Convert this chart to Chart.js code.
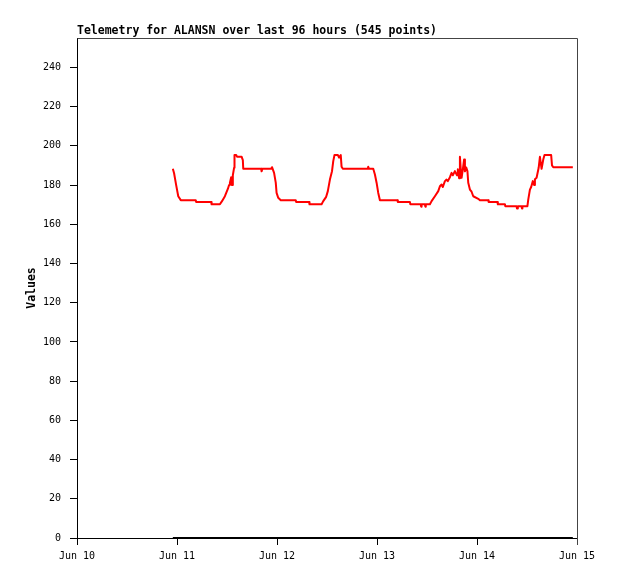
<!DOCTYPE html>
<html>
<head>
<meta charset="utf-8">
<script src="https://cdn.jsdelivr.net/npm/chart.js@4.4.1/dist/chart.umd.min.js"></script>
<style>
  html, body { margin: 0; padding: 0; background: #fff; }
  #wrap { width: 618px; height: 579px; position: relative; }
</style>
</head>
<body>
<div id="wrap"><canvas id="c" width="618" height="579"></canvas></div>
<script>
// hours since Jun 10 00:00
const hours = [
  23.0, 23.3, 23.8, 24.3, 24.9, 28.5, 28.6, 32.2, 32.3, 34.3, 34.8, 35.5, 36.2, 36.5, 36.7, 37.0, 37.2, 37.4, 37.7, 37.8,
  38.2, 38.4, 39.5, 39.8, 39.9, 44.2, 44.3, 44.5, 46.6, 46.8, 47.3, 47.7, 47.9, 48.3, 48.9, 52.5, 52.6, 55.7, 55.8, 58.7,
  59.1, 59.8, 60.2, 60.7, 61.2, 61.5, 61.8, 62.6, 62.9, 63.3, 63.5, 63.8, 69.8, 69.9, 70.1, 71.1, 71.5, 71.9, 72.3, 72.7,
  76.9, 77.0, 79.9, 80.0, 82.5, 82.6, 82.7, 83.5, 83.6, 83.7, 84.7, 85.1, 85.9, 86.7, 87.1, 87.5, 87.8, 88.3, 88.7, 89.0,
  89.5, 89.9, 90.2, 90.7, 91.2, 91.4, 91.7, 91.9, 92.2, 92.3, 92.6, 92.9, 93.1, 93.4, 93.7, 93.9, 94.3, 94.7, 95.1, 96.3,
  96.7, 98.7, 98.8, 100.9, 101.0, 102.7, 102.8, 105.5, 105.6, 105.8, 106.7, 106.8, 106.9, 108.1, 108.3, 108.7, 109.0, 109.4, 109.7, 109.9,
  110.3, 110.8, 111.1, 111.5, 111.9, 112.2, 113.8, 114.0, 114.3, 119.0
];
const values = [
  188.3, 186.0, 180.0, 174.3, 172.3, 172.3, 171.4, 171.4, 170.2, 170.2, 171.8, 174.3, 178.0, 180.0, 181.2, 184.0, 180.0, 185.0, 188.8, 195.3,
  195.3, 194.5, 194.5, 192.7, 188.3, 188.3, 187.0, 188.3, 188.3, 189.1, 186.2, 181.2, 176.0, 173.5, 172.3, 172.3, 171.4, 171.4, 170.2, 170.2,
  171.8, 174.0, 176.9, 182.8, 187.1, 192.2, 195.3, 195.3, 194.0, 195.3, 189.3, 188.3, 188.3, 189.3, 188.3, 188.3, 185.4, 181.2, 176.0, 172.3,
  172.3, 171.4, 171.4, 170.2, 170.2, 169.0, 170.2, 170.2, 169.0, 170.2, 170.2, 171.8, 174.3, 176.9, 179.4, 180.3, 179.0, 182.0, 182.8, 182.0,
  184.0, 186.2, 185.0, 187.1, 185.0, 188.0, 183.5, 194.4, 185.0, 183.7, 188.0, 193.0, 187.0, 189.0, 187.1, 181.2, 177.7, 176.6, 174.3, 173.0,
  172.3, 172.3, 171.4, 171.4, 170.2, 170.2, 169.2, 169.2, 168.0, 169.2, 169.2, 168.0, 169.2, 169.2, 172.6, 177.7, 179.0, 182.0, 180.0, 183.0,
  183.7, 188.8, 194.4, 188.3, 193.0, 195.3, 195.3, 190.0, 189.1, 189.1
];
const zeroHours = [23.0, 119.0];
const zeroValues = [0, 0];
const xTickLabels = ['Jun 10', 'Jun 11', 'Jun 12', 'Jun 13', 'Jun 14', 'Jun 15'];
const yTickValues = [0, 20, 40, 60, 80, 100, 120, 140, 160, 180, 200, 220, 240];
const titleText = 'Telemetry for ALANSN over last 96 hours (545 points)';
const yAxisTitle = 'Values';

const mono = '"DejaVu Sans Mono", "Liberation Mono", monospace';

const framePlugin = {
  id: 'frame',
  afterDatasetsDraw(chart) {
    const { ctx, chartArea: a } = chart;
    ctx.save();
    ctx.strokeStyle = '#444';
    ctx.lineWidth = 1;
    ctx.beginPath();
    ctx.moveTo(Math.round(a.left) + 0.5, Math.round(a.top) + 0.5);
    ctx.lineTo(Math.round(a.right) + 0.5, Math.round(a.top) + 0.5);
    ctx.lineTo(Math.round(a.right) + 0.5, Math.round(a.bottom) + 7);
    ctx.stroke();
    ctx.restore();
  }
};

new Chart(document.getElementById('c'), {
  type: 'line',
  data: {
    datasets: [
      {
        data: hours.map((h, i) => ({ x: h, y: values[i] })),
        borderColor: '#ff0000',
        borderWidth: 2,
        borderJoinStyle: 'round',
        pointRadius: 0,
        tension: 0,
        fill: false
      },
      {
        data: zeroHours.map((h, i) => ({ x: h, y: zeroValues[i] })),
        borderColor: '#000000',
        borderWidth: 2,
        pointRadius: 0,
        tension: 0,
        fill: false,
        clip: false
      }
    ]
  },
  options: {
    responsive: false,
    animation: false,
    devicePixelRatio: 1,
    layout: { padding: { left: 0, right: 41, top: 0, bottom: 0 } },
    plugins: {
      legend: { display: false },
      tooltip: { enabled: false },
      title: {
        display: true,
        text: titleText,
        align: 'start',
        fullSize: false,
        color: '#000',
        font: { family: mono, size: 11.5, weight: 'bold' },
        padding: { top: 24.2, bottom: 0 }
      }
    },
    scales: {
      x: {
        type: 'linear',
        min: 0,
        max: 120,
        afterBuildTicks(scale) {
          scale.ticks = xTickLabels.map((_, i) => ({ value: i * 24 }));
        },
        afterFit(scale) { scale.height = 41; },
        ticks: {
          color: '#000',
          font: { family: mono, size: 10 },
          padding: 5,
          maxRotation: 0,
          autoSkip: false,
          callback: (v) => xTickLabels[Math.round(v / 24)]
        },
        grid: { drawOnChartArea: false, drawTicks: true, tickLength: 7, color: '#000' },
        border: { display: true, color: '#000', width: 1 }
      },
      y: {
        type: 'linear',
        min: 0,
        max: 255,
        afterBuildTicks(scale) {
          scale.ticks = yTickValues.map(v => ({ value: v }));
        },
        afterFit(scale) { scale.width = 77; },
        ticks: {
          color: '#000',
          font: { family: mono, size: 10 },
          padding: 9,
          autoSkip: false
        },
        title: {
          display: true,
          text: yAxisTitle,
          color: '#000',
          font: { family: mono, size: 11.5, weight: 'bold' },
          padding: { top: 25, bottom: 0 }
        },
        grid: { drawOnChartArea: false, drawTicks: true, tickLength: 7, color: '#000' },
        border: { display: true, color: '#000', width: 1 }
      }
    }
  },
  plugins: [framePlugin]
});
</script>
</body>
</html>
